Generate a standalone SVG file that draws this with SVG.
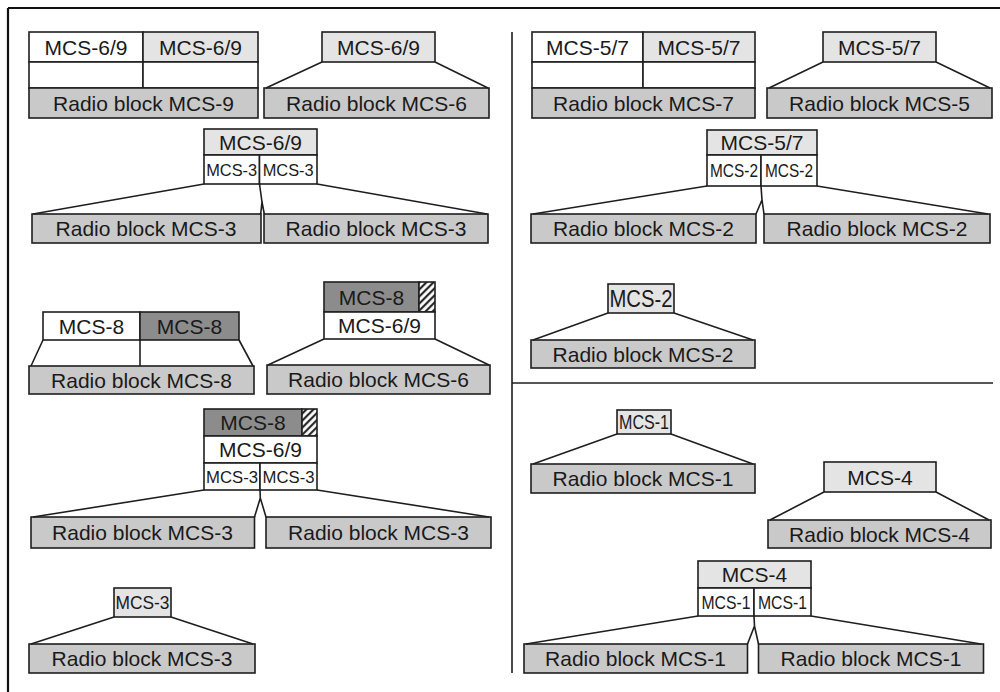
<svg xmlns="http://www.w3.org/2000/svg" width="1000" height="692" viewBox="0 0 1000 692">
<style>
.w,.l,.g,.d,.h{stroke:#1e1e1e;stroke-width:1.6}
.w{fill:#ffffff}.l{fill:#e4e4e4}.g{fill:#c9c9c9}.d{fill:#8c8c8c}.h{fill:url(#hatch)}
text{font-family:"Liberation Sans",Arial,sans-serif;fill:#1a1a1a;text-anchor:middle}
.t{font-size:21px}
.s{font-size:17px}
.c{stroke:#1e1e1e;stroke-width:1.6;fill:none}
.frame{stroke:#111;stroke-width:2.2}
</style>
<defs>
<pattern id="hatch" patternUnits="userSpaceOnUse" width="5" height="5" patternTransform="rotate(45)">
<rect x="0" y="0" width="5" height="5" fill="#fff"/>
<line x1="1.2" y1="0" x2="1.2" y2="5" stroke="#111" stroke-width="2"/>
</pattern>
</defs>
<rect x="0" y="0" width="1000" height="692" fill="#fff"/>
<g id="frame">
<line class="frame" x1="8" y1="8" x2="1000" y2="8"/>
<line class="frame" x1="8" y1="8" x2="8" y2="692"/>
<line class="c" x1="512" y1="32" x2="512" y2="673"/>
<line class="c" x1="512" y1="383" x2="993" y2="383"/>
</g>

<g id="n-mcs9">
<rect class="w" x="29" y="32" width="114" height="30"/>
<rect class="l" x="143" y="32" width="115" height="30"/>
<rect class="w" x="29" y="62" width="114" height="26"/>
<rect class="w" x="143" y="62" width="115" height="26"/>
<rect class="g" x="29" y="88" width="229" height="30"/>
<text class="t" x="86" y="54.5">MCS-6/9</text>
<text class="t" x="200.5" y="54.5">MCS-6/9</text>
<text class="t" x="143.5" y="110.5">Radio block MCS-9</text>
</g>

<g id="n-mcs6a">
<rect class="l" x="322" y="32" width="113" height="30"/>
<rect class="g" x="264" y="88" width="225" height="30"/>
<text class="t" x="378.5" y="54.5">MCS-6/9</text>
<text class="t" x="376.5" y="110.5">Radio block MCS-6</text>
</g>

<g id="n-mcs3a">
<rect class="l" x="204" y="129" width="113" height="26"/>
<rect class="w" x="204" y="155" width="55.5" height="29"/>
<rect class="w" x="259.5" y="155" width="57.5" height="29"/>
<rect class="g" x="32" y="214" width="229" height="29"/>
<rect class="g" x="264" y="214" width="224" height="29"/>
<text class="t" x="260.5" y="149.5">MCS-6/9</text>
<text class="s" x="231.7" y="175.5" textLength="51" lengthAdjust="spacingAndGlyphs">MCS-3</text>
<text class="s" x="288.2" y="175.5" textLength="51" lengthAdjust="spacingAndGlyphs">MCS-3</text>
<text class="t" x="146" y="236">Radio block MCS-3</text>
<text class="t" x="376" y="236">Radio block MCS-3</text>
</g>

<g id="n-mcs8">
<rect class="w" x="43" y="312" width="97" height="28"/>
<rect class="d" x="140" y="312" width="99" height="28"/>
<line class="c" x1="140" y1="340" x2="140" y2="366"/>
<rect class="g" x="29" y="366" width="225" height="28"/>
<text class="t" x="91.5" y="333.5">MCS-8</text>
<text class="t" x="189.5" y="333.5">MCS-8</text>
<text class="t" x="141.5" y="387.5">Radio block MCS-8</text>
</g>

<g id="n-mcs6b">
<rect class="d" x="324" y="282" width="95" height="30"/>
<rect class="h" x="419" y="282" width="16" height="30"/>
<rect class="w" x="324" y="312" width="111" height="27"/>
<rect class="g" x="267" y="365" width="223" height="29"/>
<text class="t" x="371.5" y="304.5">MCS-8</text>
<text class="t" x="379.5" y="333">MCS-6/9</text>
<text class="t" x="378.5" y="387">Radio block MCS-6</text>
</g>

<g id="n-mcs3b">
<rect class="d" x="204" y="409" width="98" height="27"/>
<rect class="h" x="302" y="409" width="15" height="27"/>
<rect class="w" x="204" y="436" width="113" height="27"/>
<rect class="w" x="204" y="463" width="56" height="27"/>
<rect class="w" x="260" y="463" width="57" height="27"/>
<rect class="g" x="31" y="517" width="223.5" height="31"/>
<rect class="g" x="266" y="517" width="225" height="31"/>
<text class="t" x="253" y="430">MCS-8</text>
<text class="t" x="260.5" y="457">MCS-6/9</text>
<text class="s" x="232" y="482.5" textLength="52" lengthAdjust="spacingAndGlyphs">MCS-3</text>
<text class="s" x="288.5" y="482.5" textLength="52" lengthAdjust="spacingAndGlyphs">MCS-3</text>
<text class="t" x="142.5" y="540">Radio block MCS-3</text>
<text class="t" x="378.5" y="540">Radio block MCS-3</text>
</g>

<g id="n-mcs3c">
<rect class="l" x="114" y="588" width="57" height="29"/>
<rect class="g" x="29" y="644" width="226" height="29"/>
<text x="142.5" y="608.8" font-size="18" textLength="54" lengthAdjust="spacingAndGlyphs">MCS-3</text>
<text class="t" x="142" y="666">Radio block MCS-3</text>
</g>

<g id="n-mcs7">
<rect class="w" x="532" y="32" width="111" height="30"/>
<rect class="l" x="643" y="32" width="112" height="30"/>
<rect class="w" x="532" y="62" width="111" height="26"/>
<rect class="w" x="643" y="62" width="112" height="26"/>
<rect class="g" x="532" y="88" width="223" height="30"/>
<text class="t" x="587.5" y="54.5">MCS-5/7</text>
<text class="t" x="699" y="54.5">MCS-5/7</text>
<text class="t" x="643.5" y="110.5">Radio block MCS-7</text>
</g>

<g id="n-mcs5">
<rect class="l" x="823" y="32" width="113" height="30"/>
<rect class="g" x="767" y="88" width="225" height="30"/>
<text class="t" x="879.5" y="54.5">MCS-5/7</text>
<text class="t" x="879.5" y="110.5">Radio block MCS-5</text>
</g>

<g id="n-mcs2a">
<rect class="l" x="707" y="130" width="110" height="25"/>
<rect class="w" x="707" y="155" width="54" height="31"/>
<rect class="w" x="761" y="155" width="56" height="31"/>
<rect class="g" x="531" y="214" width="225" height="29"/>
<rect class="g" x="764" y="214" width="226" height="29"/>
<text class="t" x="762" y="150">MCS-5/7</text>
<text x="734" y="177" font-size="18" textLength="48" lengthAdjust="spacingAndGlyphs">MCS-2</text>
<text x="789" y="177" font-size="18" textLength="48" lengthAdjust="spacingAndGlyphs">MCS-2</text>
<text class="t" x="643.5" y="236">Radio block MCS-2</text>
<text class="t" x="877" y="236">Radio block MCS-2</text>
</g>

<g id="n-mcs2b">
<rect class="l" x="608" y="284" width="66" height="29"/>
<rect class="g" x="531" y="340" width="224" height="28"/>
<text x="641" y="307" font-size="24" textLength="63" lengthAdjust="spacingAndGlyphs">MCS-2</text>
<text class="t" x="643" y="361.5">Radio block MCS-2</text>
</g>

<g id="n-mcs1a">
<rect class="l" x="617" y="410" width="54" height="24"/>
<rect class="g" x="531" y="464" width="224" height="29"/>
<text x="644" y="429" font-size="20" textLength="50" lengthAdjust="spacingAndGlyphs">MCS-1</text>
<text class="t" x="643" y="486">Radio block MCS-1</text>
</g>

<g id="n-mcs4">
<rect class="l" x="824" y="462" width="112" height="30"/>
<rect class="g" x="768" y="520" width="223" height="28"/>
<text class="t" x="880" y="484.5">MCS-4</text>
<text class="t" x="879.5" y="541.5">Radio block MCS-4</text>
</g>

<g id="n-mcs1b">
<rect class="l" x="698" y="561" width="113" height="27"/>
<rect class="w" x="698" y="588" width="56" height="28"/>
<rect class="w" x="754" y="588" width="57" height="28"/>
<rect class="g" x="524" y="644" width="223.5" height="29"/>
<rect class="g" x="758.5" y="644" width="225" height="29"/>
<text class="t" x="754.5" y="582">MCS-4</text>
<text x="726" y="608.5" font-size="18" textLength="49" lengthAdjust="spacingAndGlyphs">MCS-1</text>
<text x="782.5" y="608.5" font-size="18" textLength="49" lengthAdjust="spacingAndGlyphs">MCS-1</text>
<text class="t" x="635.5" y="666">Radio block MCS-1</text>
<text class="t" x="871" y="666">Radio block MCS-1</text>
</g>

<g id="connectors" class="c">
<path d="M322,62 L266,88 M435,62 L488,88"/>
<path d="M204,184 L33,214 M317,184 L487,214 M259.5,184 L262,202 M260.7,214 L262,202 L264.3,214"/>
<path d="M43,340 L31,366 M239,340 L253,366"/>
<path d="M324,339 L268,365 M435,339 L489,365"/>
<path d="M204,490 L33,517 M317,490 L489,517 M260,490 L260.3,498 M254.5,517 L260.3,498 L266,517"/>
<path d="M114,617 L31,644 M171,617 L253,644"/>
<path d="M823,62 L769,88 M936,62 L990,88"/>
<path d="M707,186 L533,214 M817,186 L988,214 M761,186 L762,200 M756,214 L762,200 L764,214"/>
<path d="M608,313 L533,340 M674,313 L753,340"/>
<path d="M617,434 L533,464 M671,434 L753,464"/>
<path d="M824,492 L770,520 M936,492 L989,520"/>
<path d="M698,616 L526,644 M811,616 L981,644 M754,616 L754.5,626 M747.5,644 L754.5,626 L758.5,644"/>
</g>
</svg>
